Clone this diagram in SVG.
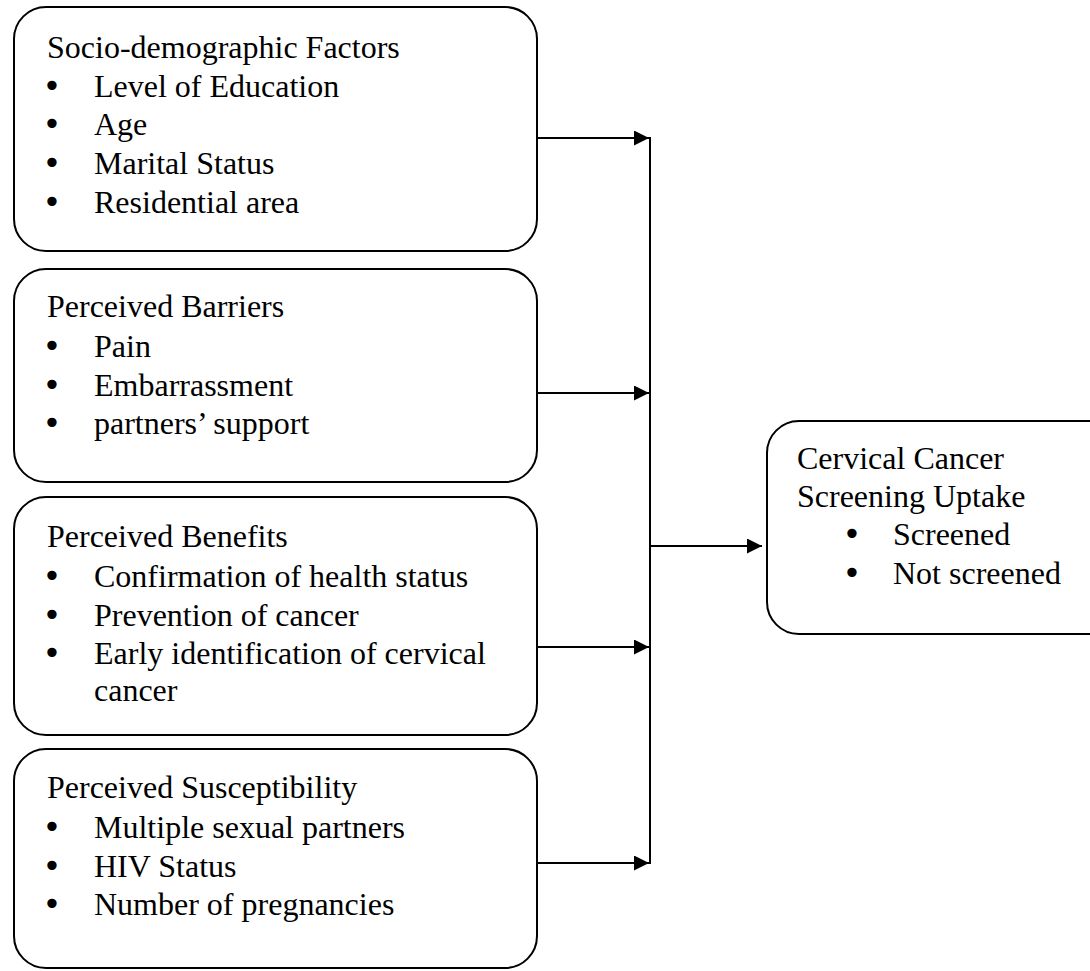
<svg xmlns="http://www.w3.org/2000/svg" width="1090" height="971" viewBox="0 0 1090 971">
<style>
.box{fill:#fff;stroke:#000;stroke-width:2}
.t{font-family:'Liberation Serif','Times New Roman',Tinos,'DejaVu Serif',serif;font-size:32px;fill:#000}
.b{font-family:'DejaVu Sans',sans-serif;font-size:32px;fill:#000;text-anchor:middle}
.ln{stroke:#000;stroke-width:2;fill:none}
</style>
<defs>
<marker id="ah" markerUnits="userSpaceOnUse" markerWidth="16" markerHeight="16" refX="15" refY="7.5" orient="auto">
<path d="M0,0 L15,7.5 L0,15 z" fill="#000"/>
</marker>
</defs>
<rect width="1090" height="971" fill="#fff"/>
<g id="connectors">
<line class="ln" x1="538" y1="138" x2="649" y2="138" marker-end="url(#ah)"/>
<line class="ln" x1="538" y1="393" x2="649" y2="393" marker-end="url(#ah)"/>
<line class="ln" x1="538" y1="647" x2="649" y2="647" marker-end="url(#ah)"/>
<line class="ln" x1="538" y1="863" x2="649" y2="863" marker-end="url(#ah)"/>
<line class="ln" x1="650" y1="137" x2="650" y2="864"/>
<line class="ln" x1="650" y1="546" x2="762" y2="546" marker-end="url(#ah)"/>
</g>
<g id="socio">
<rect class="box" x="14" y="7" width="523" height="244" rx="32"/>
<text class="t" x="47" y="58">Socio-demographic Factors</text>
<text class="b" x="52" y="97">•</text><text class="t" x="94" y="97">Level of Education</text>
<text class="b" x="52" y="135">•</text><text class="t" x="94" y="135">Age</text>
<text class="b" x="52" y="174">•</text><text class="t" x="94" y="174">Marital Status</text>
<text class="b" x="52" y="213">•</text><text class="t" x="94" y="213">Residential area</text>
</g>
<g id="barriers">
<rect class="box" x="14" y="269" width="523" height="213" rx="32"/>
<text class="t" x="47" y="317">Perceived Barriers</text>
<text class="b" x="52" y="357">•</text><text class="t" x="94" y="357">Pain</text>
<text class="b" x="52" y="396">•</text><text class="t" x="94" y="396">Embarrassment</text>
<text class="b" x="52" y="434">•</text><text class="t" x="94" y="434">partners’ support</text>
</g>
<g id="benefits">
<rect class="box" x="14" y="497" width="523" height="238" rx="32"/>
<text class="t" x="47" y="547">Perceived Benefits</text>
<text class="b" x="52" y="587">•</text><text class="t" x="94" y="587">Confirmation of health status</text>
<text class="b" x="52" y="626">•</text><text class="t" x="94" y="626">Prevention of cancer</text>
<text class="b" x="52" y="664">•</text><text class="t" x="94" y="664">Early identification of cervical</text>
<text class="t" x="94" y="701">cancer</text>
</g>
<g id="susceptibility">
<rect class="box" x="14" y="749" width="523" height="219" rx="32"/>
<text class="t" x="47" y="798">Perceived Susceptibility</text>
<text class="b" x="52" y="838">•</text><text class="t" x="94" y="838">Multiple sexual partners</text>
<text class="b" x="52" y="877">•</text><text class="t" x="94" y="877">HIV Status</text>
<text class="b" x="52" y="915">•</text><text class="t" x="94" y="915">Number of pregnancies</text>
</g>
<g id="uptake">
<rect class="box" x="767" y="421" width="360" height="213" rx="32"/>
<text class="t" x="797" y="469">Cervical Cancer</text>
<text class="t" x="797" y="507">Screening Uptake</text>
<text class="b" x="852" y="545">•</text><text class="t" x="893" y="545">Screened</text>
<text class="b" x="852" y="584">•</text><text class="t" x="893" y="584">Not screened</text>
</g>
</svg>
